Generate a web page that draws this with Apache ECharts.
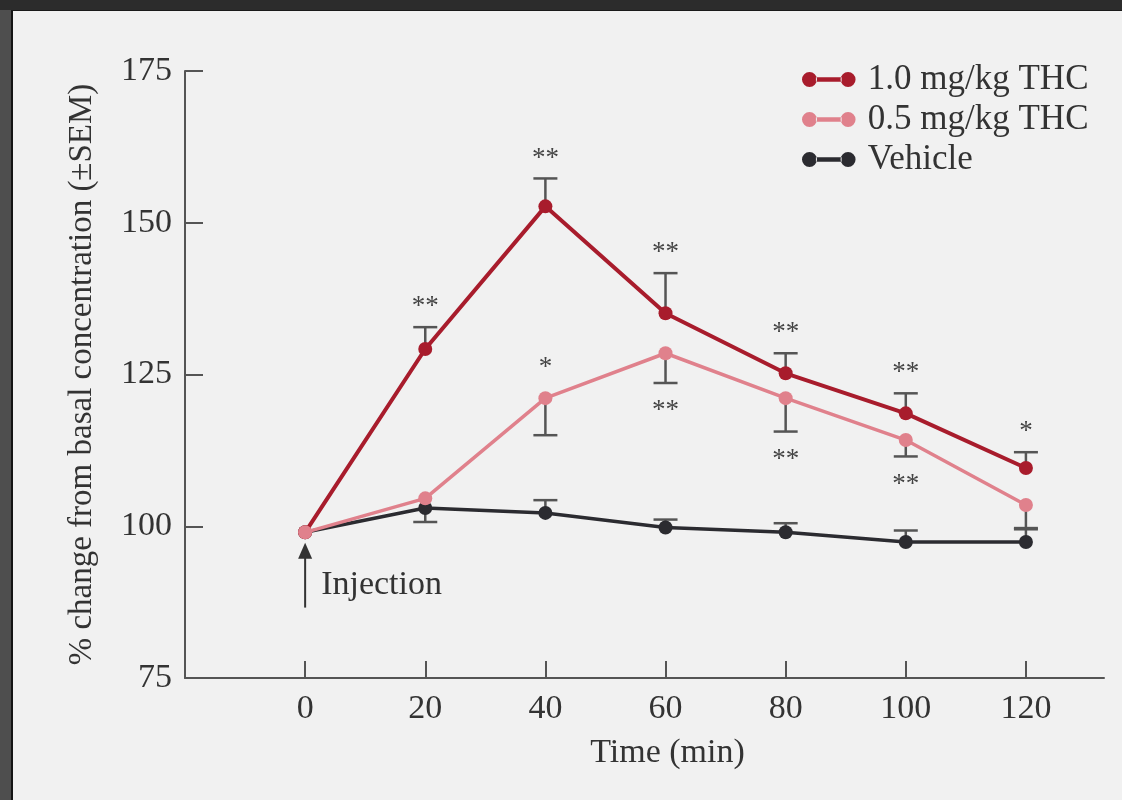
<!DOCTYPE html>
<html>
<head>
<meta charset="utf-8">
<script src="https://cdn.jsdelivr.net/npm/echarts@6/dist/echarts.min.js"></script>
<style>
html,body{margin:0;padding:0;background:#f1f1f1;}
#chart{width:1122px;height:800px;}
</style>
</head>
<body>
<div id="chart"></div>
<script>
// ---- data ----
const times = [0, 20, 40, 60, 80, 100, 120];
const xTicks = [0, 20, 40, 60, 80, 100, 120];
const yTicks = [75, 100, 125, 150, 175];
const seriesNames = ['1.0 mg/kg THC', '0.5 mg/kg THC', 'Vehicle'];
const thc10 = [99.0, 129.2, 152.7, 135.1, 125.2, 118.6, 109.6];
const thc05 = [99.0, 104.6, 121.1, 128.5, 121.1, 114.2, 103.5];
const vehicle = [99.0, 103.0, 102.2, 99.8, 99.0, 97.4, 97.4];
// error bar ends (SEM), null = no bar drawn
const thc10Err = [null, 132.8, 157.3, 141.7, 128.5, 121.9, 112.2];
const thc05Err = [null, null, 115.0, 123.6, 115.6, 111.5, 99.5];
const vehicleErr = [null, 100.7, 104.3, 101.1, 100.5, 99.3, 99.7];
// significance marks
const thc10Sig = ['', '**', '**', '**', '**', '**', '*'];
const thc05Sig = ['', '', '*', '**', '**', '**', ''];
const thc05SigAbovePoint = [false, false, true, false, false, false, false];
const vehicleSig = ['', '', '', '', '', '', ''];
const yAxisTitle = '% change from basal concentration (±SEM)';
const xAxisTitle = 'Time (min)';
const injectionLabel = 'Injection';
const injectionTime = 0;
const injectionRange = [97.3, 86.6]; // arrow tip, arrow tail (y values)

const FONT = '"Liberation Serif", "Times New Roman", serif';
const TEXT = '#333333';
const colors = ['#a81c2c', '#e0818c', '#2b2b30'];

function pairs(vals) { return times.map((t, i) => [t, vals[i]]); }

function errSeries(vals, errs, sigs, sigAbove, mode) {
  return {
    type: 'custom',
    coordinateSystem: 'cartesian2d',
    z: 1,
    silent: true,
    data: times.map((t, i) => [t, vals[i], errs[i] == null ? vals[i] : errs[i]]),
    encode: { x: 0, y: 1 },
    renderItem: function (params, api) {
      const i = params.dataIndex;
      const p = api.coord([api.value(0), api.value(1)]);
      const e = api.coord([api.value(0), api.value(2)]);
      const children = [];
      const stroke = { stroke: '#555', lineWidth: 2.5 };
      if (errs[i] != null) {
        children.push({ type: 'line', shape: { x1: p[0], y1: p[1], x2: e[0], y2: e[1] }, style: stroke });
        children.push({ type: 'line', shape: { x1: e[0] - 12, y1: e[1], x2: e[0] + 12, y2: e[1] }, style: stroke });
      }
      const s = sigs[i];
      if (s) {
        let ty;
        if (sigAbove && sigAbove[i]) ty = p[1] - 30;
        else if (mode === 'above') ty = e[1] - 20;
        else ty = e[1] + 28;
        children.push({
          type: 'text',
          style: { text: s, x: p[0], y: ty, align: 'center', verticalAlign: 'middle',
                   font: '27px ' + FONT, fill: '#444' }
        });
      }
      return { type: 'group', children: children };
    }
  };
}

const chart = echarts.init(document.getElementById('chart'));
const option = {
  backgroundColor: '#f1f1f1',
  animation: false,
  textStyle: { fontFamily: FONT, color: TEXT },
  grid: { left: 185, right: 18, top: 71, bottom: 122, containLabel: false },
  legend: {
    data: seriesNames,
    orient: 'vertical',
    left: 797,
    top: 57,
    itemWidth: 54,
    itemHeight: 15,
    itemGap: 5,
    icon: 'path://M0,7 a7,7 0 1,0 14,0 a7,7 0 1,0 -14,0 Z M13,5 h24 v4 h-24 Z M36,7 a7,7 0 1,0 14,0 a7,7 0 1,0 -14,0 Z',
    textStyle: { fontFamily: FONT, fontSize: 35, color: TEXT, padding: [0, 0, 0, 7] }
  },
  xAxis: {
    type: 'value',
    min: -20,
    max: 133,
    interval: 20,
    splitLine: { show: false },
    axisLine: { show: true, onZero: false, lineStyle: { color: '#555', width: 2 } },
    axisTick: { show: true, inside: true, length: 17, customValues: xTicks, lineStyle: { color: '#555', width: 2 } },
    axisLabel: { customValues: xTicks, margin: 14, fontSize: 34, fontFamily: FONT, color: TEXT },
    name: xAxisTitle,
    nameLocation: 'middle',
    nameGap: 58,
    nameTextStyle: { fontSize: 34, fontFamily: FONT, color: TEXT, padding: [0, 0, 0, 46] }
  },
  yAxis: {
    type: 'value',
    min: 75,
    max: 175,
    interval: 25,
    splitLine: { show: false },
    axisLine: { show: true, onZero: false, lineStyle: { color: '#555', width: 2 } },
    axisTick: { show: true, inside: true, length: 18, customValues: yTicks, lineStyle: { color: '#555', width: 2 } },
    axisLabel: { customValues: yTicks, margin: 13, fontSize: 34, fontFamily: FONT, color: TEXT },
    name: yAxisTitle,
    nameLocation: 'middle',
    nameGap: 86,
    nameTextStyle: { fontSize: 33, fontFamily: FONT, color: TEXT }
  },
  series: [
    errSeries(thc10, thc10Err, thc10Sig, null, 'above'),
    errSeries(thc05, thc05Err, thc05Sig, thc05SigAbovePoint, 'below'),
    errSeries(vehicle, vehicleErr, vehicleSig, null, 'above'),
    {
      name: seriesNames[2], type: 'line', data: pairs(vehicle), z: 3,
      symbol: 'circle', symbolSize: 14, color: colors[2],
      lineStyle: { width: 3.5, color: colors[2] }, itemStyle: { color: colors[2] }
    },
    {
      name: seriesNames[0], type: 'line', data: pairs(thc10), z: 4,
      symbol: 'circle', symbolSize: 14, color: colors[0],
      lineStyle: { width: 4, color: colors[0] }, itemStyle: { color: colors[0] }
    },
    {
      name: seriesNames[1], type: 'line', data: pairs(thc05), z: 5,
      symbol: 'circle', symbolSize: 14, color: colors[1],
      lineStyle: { width: 3.5, color: colors[1] }, itemStyle: { color: colors[1] }
    },
    {
      type: 'custom', coordinateSystem: 'cartesian2d', silent: true, z: 2,
      data: [[injectionTime, injectionRange[0], injectionRange[1]]],
      encode: { x: 0, y: 1 },
      renderItem: function (params, api) {
        const tip = api.coord([api.value(0), api.value(1)]);
        const tail = api.coord([api.value(0), api.value(2)]);
        return {
          type: 'group',
          children: [
            { type: 'line', shape: { x1: tip[0], y1: tip[1] + 10, x2: tail[0], y2: tail[1] }, style: { stroke: '#333', lineWidth: 2 } },
            { type: 'polygon', shape: { points: [[tip[0], tip[1]], [tip[0] - 7, tip[1] + 16], [tip[0] + 7, tip[1] + 16]] }, style: { fill: '#333' } },
            { type: 'text', style: { text: injectionLabel, x: tip[0] + 16, y: (tip[1] + tail[1]) / 2 + 10, align: 'left', verticalAlign: 'middle', font: '34px ' + FONT, fill: TEXT } }
          ]
        };
      }
    }
  ],
  graphic: [
    { type: 'rect', left: 0, top: 0, z: 100, shape: { width: 11, height: 800 }, style: { fill: '#4e4e4e' } },
    { type: 'rect', left: 11, top: 10, z: 100, shape: { width: 2, height: 790 }, style: { fill: '#151515' } },
    { type: 'rect', left: 0, top: 0, z: 101, shape: { width: 1122, height: 10 }, style: { fill: '#2c2c2c' } },
    { type: 'rect', left: 11, top: 10, z: 100, shape: { width: 1111, height: 1 }, style: { fill: '#1a1a1a' } }
  ]
};
chart.setOption(option);
</script>
</body>
</html>
